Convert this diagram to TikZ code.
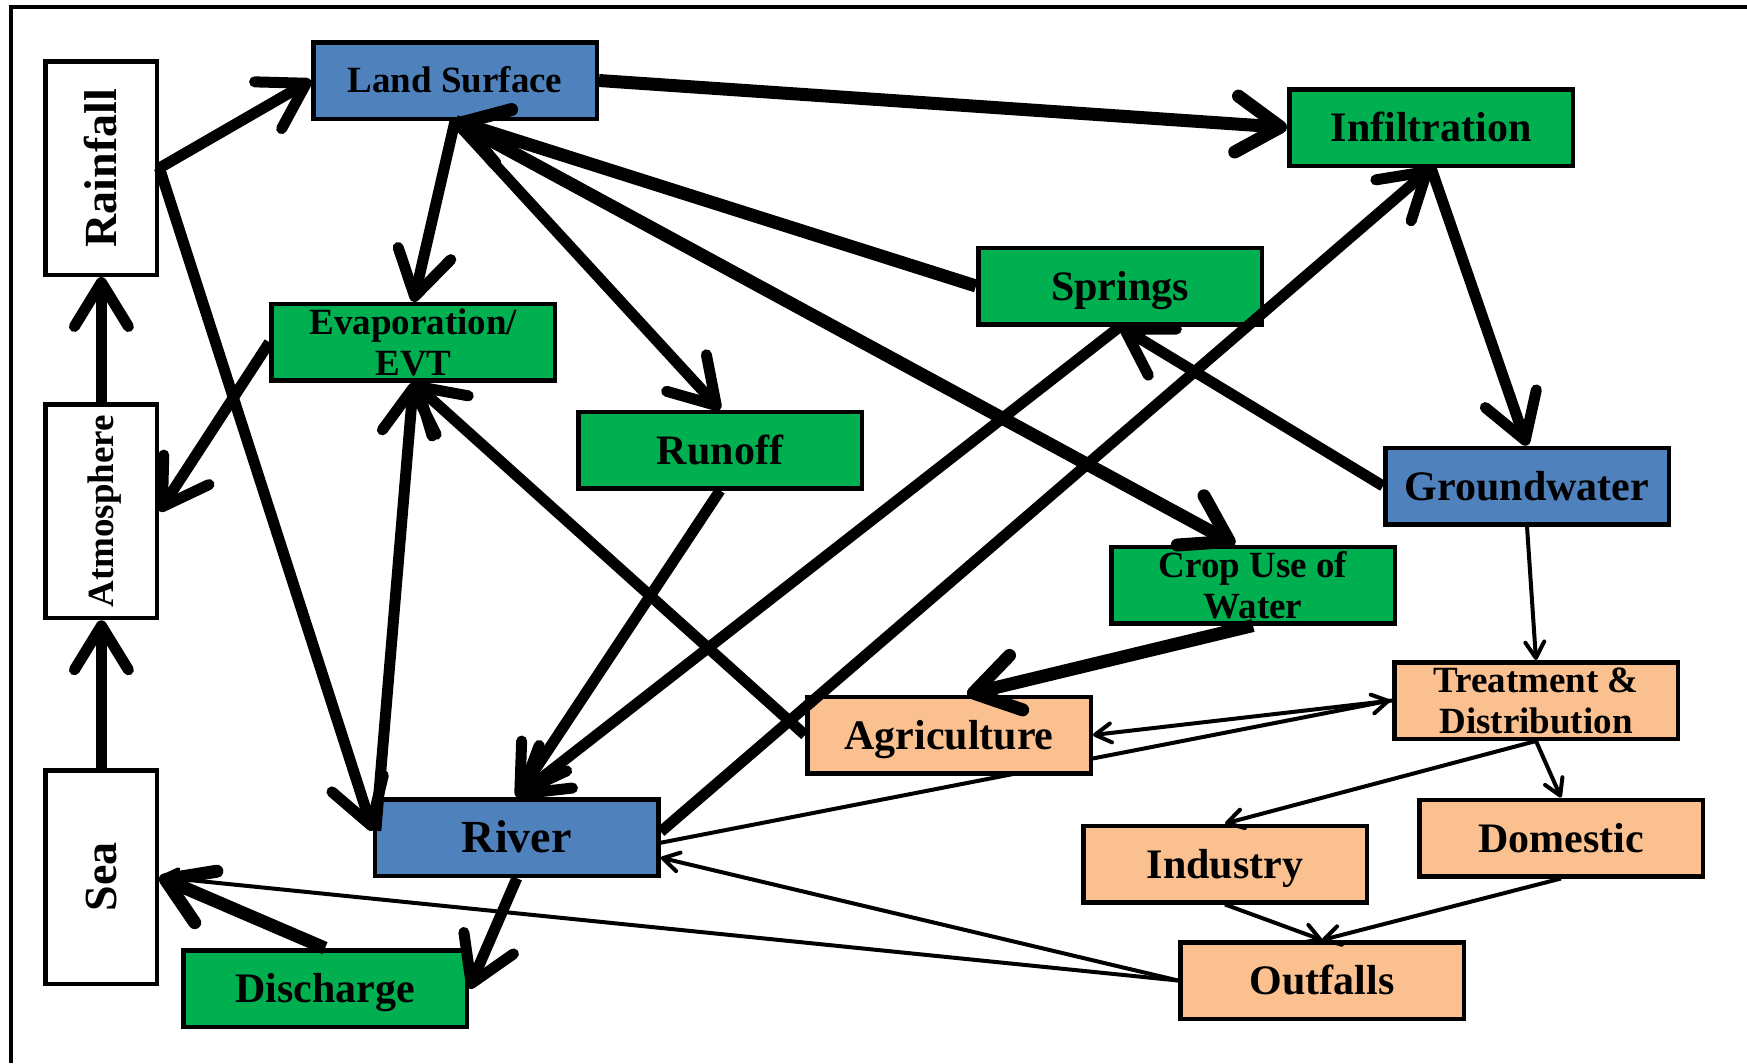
\documentclass[tikz,border=0pt]{standalone}
\usepackage{fontspec}
\setmainfont{Liberation Serif}
\usetikzlibrary{arrows.meta,calc}
\definecolor{bxblue}{RGB}{79,129,189}
\definecolor{bxgreen}{RGB}{0,176,80}
\definecolor{bxorange}{RGB}{250,192,144}
\tikzset{
  bx/.style={draw=black,line width=4.5pt,minimum width=283.5pt,minimum height=76.5pt,inner sep=0pt,align=center},
  bxtall/.style={draw=black,fill=white,line width=4.5pt,minimum width=111.5pt,minimum height=213.5pt,inner sep=0pt},
  fb/.style={fill=bxblue},
  fg/.style={fill=bxgreen},
  fo/.style={fill=bxorange},
  fbig/.style={font=\bfseries\fontsize{42}{46}\selectfont,text height=28pt,text depth=0pt},
  fhuge/.style={font=\bfseries\fontsize{46}{50}\selectfont,text height=30.5pt,text depth=0pt},
  fsmall/.style={font=\bfseries\fontsize{37}{41}\selectfont,text height=24.5pt,text depth=0pt},
  ftwo/.style={font=\bfseries\fontsize{37}{41}\selectfont},
  thk/.style={line width=11pt,-{Straight Barb[length=44pt,width=54pt,round]}},
  thkk/.style={line width=13pt,-{Straight Barb[length=44pt,width=56pt,round]}},
  thn/.style={line width=4pt,-{Straight Barb[length=16pt,width=19pt,round]}},
}
\begin{document}
\begin{tikzpicture}[x=1pt,y=-1pt]
\useasboundingbox (0,0) rectangle (1747,1063);
\draw[line width=4pt] (11,1063) -- (11,7) -- (1747,7);

% line hidden behind Agriculture (drawn first)
\coordinate (rivT) at (660.8,842.7);
\coordinate (treatW) at (1390.2,700.5);
\draw[thn] (rivT) -- (treatW);

% nodes
\node[bxtall] (Rain) at (101.4,168) {};
\node[fhuge,rotate=90] (RainT) at (Rain.center) {Rainfall};
\node[bxtall] (Atm) at (101.4,511.3) {};
\node[fsmall,rotate=90] (AtmT) at (Atm.center) {Atmosphere};
\node[bxtall] (Sea) at (101.4,877) {};
\node[fhuge,rotate=90] (SeaT) at (Sea.center) {Sea};

\node[bx,fb,fsmall] (LS) at (455,80.5) {Land Surface};
\node[bx,fg,ftwo] (Evap) at (413.4,342.3) {Evaporation/\\EVT};
\node[bx,fg,fbig] (Runoff) at (720,450) {Runoff};
\node[bx,fg,fbig] (Springs) at (1120,286) {Springs};
\node[bx,fg,fbig] (Infil) at (1431,127.5) {Infiltration};
\node[bx,fb,fbig] (GW) at (1527,486) {Groundwater};
\node[bx,fg,ftwo] (Crop) at (1253,585) {Crop Use of\\Water};
\node[bx,fo,ftwo] (Treat) at (1536,700.5) {Treatment \&\\Distribution};
\node[bx,fo,fbig] (Agri) at (949,735) {Agriculture};
\node[bx,fb,fhuge] (River) at (516.8,837.7) {River};
\node[bx,fo,fbig] (Ind) at (1225,864) {Industry};
\node[bx,fo,fbig] (Dom) at (1561,838) {Domestic};
\node[bx,fo,fbig] (Out) at (1322,980.5) {Outfalls};
\node[bx,fg,fbig] (Dis) at (325,988.6) {Discharge};

% thick connectors
\draw[thk] (Rain.east) -- (LS.west);
\draw[thk] (Rain.east) -- ($(River.west)+(0,-7)$);
\draw[thk] (Atm.north) -- (Rain.south);
\draw[thk] (Sea.north) -- (Atm.south);
\draw[thk] (LS.south) -- (Evap.north);
\draw[thk] (Evap.west) -- (Atm.east);
\draw[thk] (LS.south) -- (Runoff.north);
\draw[thkk] (LS.east) -- (Infil.west);
\draw[thkk] (Springs.west) -- (LS.south);
\draw[thkk] (LS.south) -- ($(Crop.north)+(-18,0)$);
\draw[thk] ($(River.west)+(3,-7)$) -- (Evap.south);
\draw[thk] (Agri.west) -- (Evap.south);
\draw[thk] (Runoff.south) -- (River.north);
\draw[thk] (Springs.south) -- (River.north);
\draw[thk] ($(River.east)+(0,-6)$) -- (Infil.south);
\draw[thk] (Infil.south) -- (GW.north);
\draw[thk] (GW.west) -- (Springs.south);
\draw[thkk] (Crop.south) -- ($(Agri.north)+(18,0)$);
\draw[thkk] (Dis.north) -- (Sea.east);
\draw[thk] (River.south) -- (Dis.east);

% thin connectors
\draw[thn] (GW.south) -- (Treat.north);
\draw[thn] (Treat.west) -- (Agri.east);
\draw[thn] (Treat.south) -- (Ind.north);
\draw[thn] (Treat.south) -- (Dom.north);
\draw[thn] (Ind.south) -- (Out.north);
\draw[thn] (Dom.south) -- (Out.north);
\draw[thn] (Out.west) -- ($(River.east)+(0,20)$);
\draw[thn] (Out.west) -- (Sea.east);
\end{tikzpicture}
\end{document}
